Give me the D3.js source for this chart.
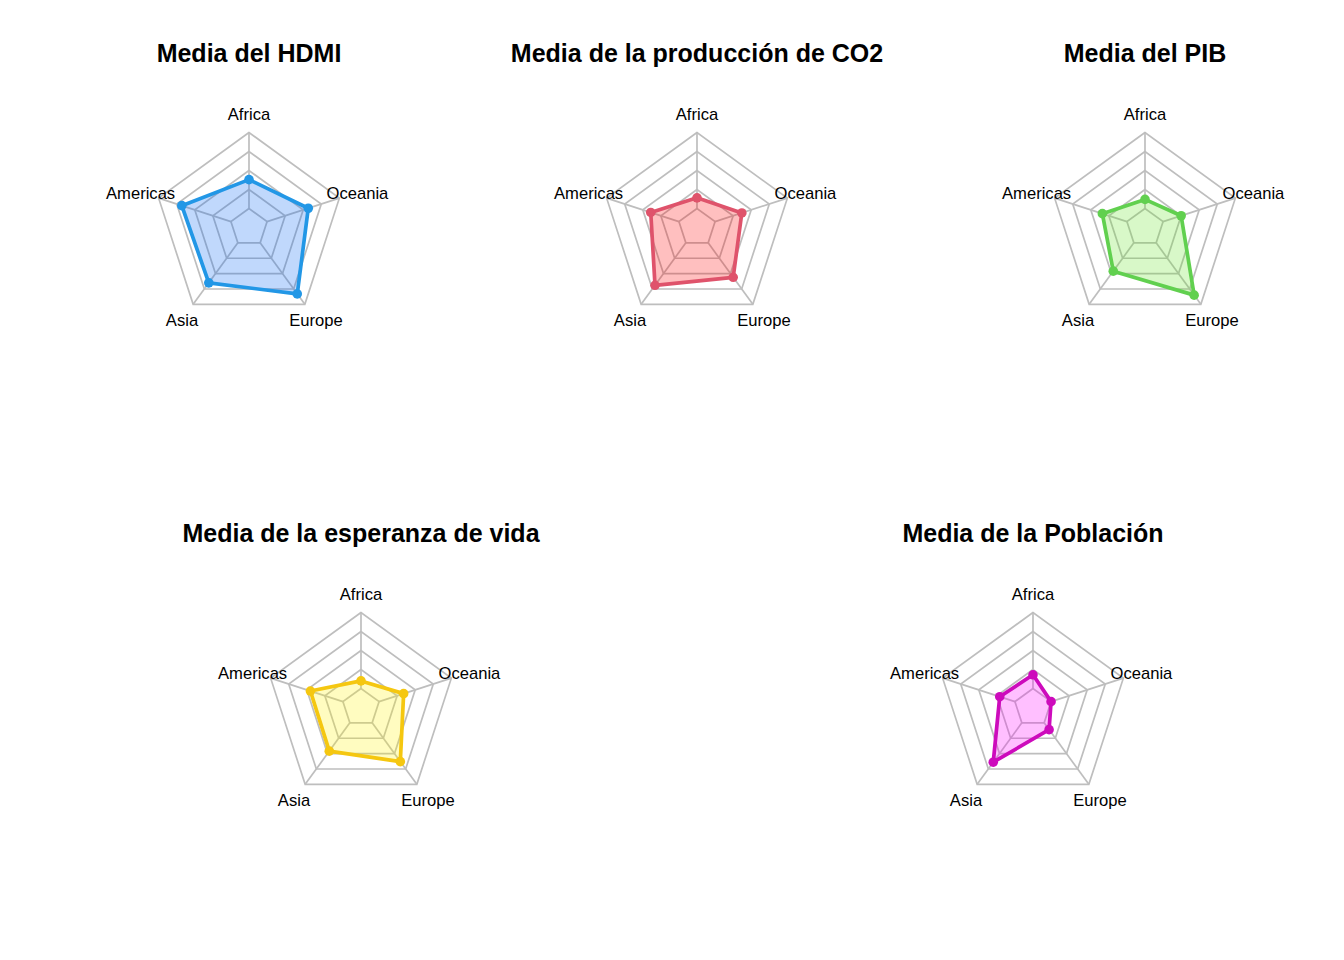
<!DOCTYPE html>
<html>
<head>
<meta charset="utf-8">
<script src="https://cdn.jsdelivr.net/npm/d3@7"></script>
<style>
  html, body { margin: 0; padding: 0; background: #ffffff; }
  svg { display: block; }
  text { font-family: "Liberation Sans", Arial, sans-serif; }
</style>
</head>
<body>
<svg id="chart" width="1344" height="960"></svg>
<script>
// Categories (axes), in the order drawn counter-clockwise from the top
const categories = ["Africa", "Americas", "Asia", "Europe", "Oceania"];

// Chart titles
const titles = [
  "Media del HDMI",
  "Media de la producción de CO2",
  "Media del PIB",
  "Media de la esperanza de vida",
  "Media de la Población"
];

// Series values, scaled between the chart minimum (0) and maximum (1)
const hdmi      = [0.38, 0.68, 0.65, 0.83, 0.57];
const co2       = [0.14, 0.39, 0.69, 0.56, 0.37];
const pib       = [0.12, 0.34, 0.46, 0.85, 0.25];
const vida      = [0.10, 0.45, 0.46, 0.63, 0.34];
const poblacion = [0.18, 0.21, 0.64, 0.11, 0.00];

// Grid levels (4 segments)
const gridLevels = [0, 0.25, 0.5, 0.75, 1];

const series = [hdmi, co2, pib, vida, poblacion];
const lineColors = ["#2297E6", "#DF536B", "#61D04F", "#F5C710", "#CD0BBC"];
const fillColors = ["#0363F3", "#FF0000", "#63E323", "#FFF303", "#FF00FF"];
const centers = [[249, 227.5], [697, 227.5], [1145, 227.5], [361, 707.5], [1033, 707.5]];

const R = 95;
const svg = d3.select("#chart");

// fmsb-like radial scale: minimum sits on the inner ring (1/5 of radius)
const rScale = d3.scaleLinear().domain([0, 1]).range([R / 5, R]);
const angle = i => (90 + i * 360 / categories.length) * Math.PI / 180;
const pt = (i, r) => [Math.cos(angle(i)) * r, -Math.sin(angle(i)) * r];

series.forEach((vals, k) => {
  const [cx, cy] = centers[k];
  const g = svg.append("g").attr("transform", `translate(${cx},${cy})`);

  // title
  g.append("text")
    .attr("x", 0).attr("y", -174.5)
    .attr("text-anchor", "middle")
    .attr("dominant-baseline", "central")
    .attr("font-size", 25).attr("font-weight", "bold")
    .attr("fill", "#000")
    .text(titles[k]);

  // grid rings
  gridLevels.forEach(lv => {
    const pts = categories.map((c, i) => pt(i, rScale(lv)));
    g.append("polygon")
      .attr("points", pts.map(p => p.join(",")).join(" "))
      .attr("fill", "none")
      .attr("stroke", "#BEBEBE")
      .attr("stroke-width", 1.7);
  });

  // spokes
  categories.forEach((c, i) => {
    const a = pt(i, rScale(0)), b = pt(i, rScale(1));
    g.append("line")
      .attr("x1", a[0]).attr("y1", a[1])
      .attr("x2", b[0]).attr("y2", b[1])
      .attr("stroke", "#BEBEBE")
      .attr("stroke-width", 1.7);
  });

  // data polygon
  const dpts = vals.map((v, i) => pt(i, rScale(v)));
  g.append("polygon")
    .attr("points", dpts.map(p => p.join(",")).join(" "))
    .attr("fill", fillColors[k])
    .attr("fill-opacity", 0.25)
    .attr("stroke", lineColors[k])
    .attr("stroke-width", 3.7)
    .attr("stroke-linejoin", "round");

  g.selectAll("circle.pt").data(dpts).enter().append("circle")
    .attr("cx", d => d[0]).attr("cy", d => d[1])
    .attr("r", 4.8)
    .attr("fill", lineColors[k]);

  // axis labels
  categories.forEach((c, i) => {
    const p = pt(i, R * 1.2);
    g.append("text")
      .attr("x", p[0]).attr("y", p[1] + 1)
      .attr("text-anchor", "middle")
      .attr("dominant-baseline", "central")
      .attr("font-size", 16.6)
      .attr("fill", "#000")
      .text(c);
  });
});
</script>
</body>
</html>
